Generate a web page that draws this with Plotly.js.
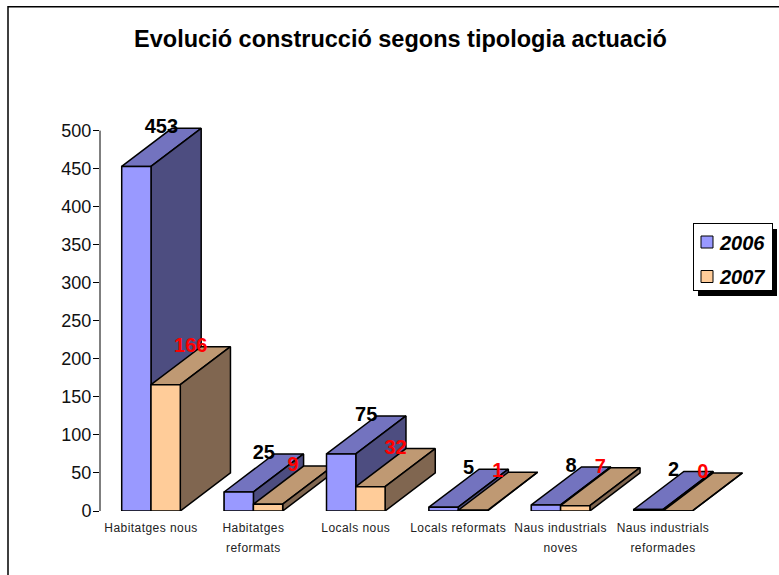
<!DOCTYPE html>
<html><head><meta charset="utf-8">
<script src="https://cdn.plot.ly/plotly-3.0.1.min.js"></script>
<style>html,body{margin:0;padding:0;background:#fff}
.xtick text{letter-spacing:.45px}</style>
</head><body><div id="chart" style="width:779px;height:575px"></div>
<script>
const categories = ["Habitatges nous","Habitatges<br>reformats","Locals nous","Locals reformats","Naus industrials<br>noves","Naus industrials<br>reformades"];
const series2006 = [453,25,75,5,8,2];
const series2007 = [166,9,32,1,7,0];
const seriesNames = ["2006","2007"];
const yTicks = [0,50,100,150,200,250,300,350,400,450,500];

// 3-D look
const barW = 0.143, depthX = 0.49, depthY = 50;
const faces = [
  {front:"#9999FF", top:"#7373BF", side:"#4D4D80", label:"#000000"},
  {front:"#FFCC99", top:"#BF9973", side:"#806650", label:"#FF0000"}
];
const allSeries = [series2006, series2007];
const idx = categories.map((_,i)=>i);

function poly(xs, ys, color){
  return {type:"scatter", mode:"lines", x:xs.concat(xs[0]), y:ys.concat(ys[0]), fill:"toself",
    fillcolor:color, line:{color:"#000", width:1.5, shape:"linear"}, showlegend:false, hoverinfo:"skip"};
}
const traces = [];
allSeries.forEach((vals,s)=>{
  traces.push({type:"bar", name:seriesNames[s], x:idx, y:vals, width:2*barW, offset:s===0?-2*barW:0,
    marker:{color:faces[s].front, line:{color:"#000", width:1}}, legendgroup:seriesNames[s], hoverinfo:"x+y"});
});
idx.forEach(i=>{
  allSeries.forEach((vals,s)=>{
    const l = i + (s===0?-2*barW:0), r = l + 2*barW, v = vals[i], f = faces[s];
    traces.push(poly([l,r,r+depthX,l+depthX],[v,v,v+depthY,v+depthY],f.top));
    traces.push(poly([r,r+depthX,r+depthX,r],[0,depthY,v+depthY,v],f.side));
    traces.push(poly([l,r,r,l],[0,0,v,v],f.front));
  });
});
allSeries.forEach((vals,s)=>{
  traces.push({type:"scatter", mode:"text", x:idx.map(i=>i+(s===0?-barW:barW)+depthX/2), y:vals.map(v=>v+depthY),
    text:vals.map(String), textposition:"middle center", cliponaxis:false, showlegend:false, hoverinfo:"skip",
    textfont:{family:"Liberation Sans, Arial", size:20, color:faces[s].label, weight:"bold"}});
});

const W=779, H=575, L=100, R=779, B=511, pxPerUnit=380.5/500, yMax=560;
const T=B-yMax*pxPerUnit;
const px = x => (x-L)/(R-L);
const py = y => (B-y)/(B-T);
const layout = {
  width:W, height:H, paper_bgcolor:"#fff", plot_bgcolor:"rgba(0,0,0,0)",
  margin:{l:L, r:W-R, t:T, b:H-B, pad:0, autoexpand:false}, barmode:"overlay",
  font:{family:"Liberation Sans, Arial", color:"#000"},
  title:{text:"<b>Evolució construcció segons tipologia actuació</b>", font:{size:23.5, color:"#000"},
    xref:"container", x:400.5/W, xanchor:"center", yref:"container", y:1-39/H, yanchor:"middle"},
  xaxis:{range:[(L-151)/102.4,(R-151)/102.4], tickmode:"array", tickvals:idx, ticktext:categories,
    showline:false, showgrid:false, zeroline:false, ticks:"outside", ticklen:6, tickcolor:"rgba(0,0,0,0)", tickangle:0,
    tickfont:{size:12, color:"#222"}, automargin:false},
  yaxis:{range:[0,yMax], tickmode:"array", tickvals:yTicks, showline:false, ticks:"outside", ticklabelstandoff:-2,
    ticklen:6, tickcolor:"#000", showgrid:false, zeroline:false, tickfont:{size:18, color:"#111"}, automargin:false},
  legend:{xref:"container", yref:"container", x:693/W, y:1-223/H, xanchor:"left", yanchor:"top",
    bgcolor:"#fff", bordercolor:"#000", borderwidth:1, traceorder:"grouped", tracegroupgap:4,
    font:{family:"Liberation Sans, Arial", size:20, color:"#000", weight:"bold", style:"italic"}, itemclick:false, itemdoubleclick:false},
  shapes:[
    {type:"line", xref:"paper", yref:"y", x0:0, x1:0, y0:0, y1:500, line:{color:"#000", width:1}, layer:"below"},
    {type:"rect", xref:"paper", yref:"paper", x0:px(698), x1:px(777), y0:py(296), y1:py(229), fillcolor:"#000", line:{width:0}, layer:"below"},
    {type:"path", xref:"paper", yref:"paper", path:`M ${px(8)} ${py(575)} L ${px(8)} ${py(6.5)} L ${px(779)} ${py(6.5)}`, line:{color:"#000", width:1.5}, layer:"below"}
  ],
  showlegend:true
};
Plotly.newPlot("chart", traces, layout, {displayModeBar:false, responsive:false}).then(()=>{
  document.querySelectorAll(".xtick text tspan.line").forEach(t=>{ if(parseFloat(t.getAttribute("dy"))>0) t.setAttribute("dy","1.6em"); });
  document.querySelectorAll(".legend .legendsymbols").forEach(g=>g.setAttribute("transform","translate(-7,0)"));
  document.querySelectorAll(".legend text.legendtext").forEach(t=>t.setAttribute("x","26"));
  const groups=document.querySelector(".legend .groups");
  if(groups) groups.setAttribute("transform","translate(0,-1.5)");
  const bg=document.querySelector(".legend rect.bg");
  if(bg){bg.setAttribute("width","79");bg.setAttribute("height","67");}
});
</script></body></html>
